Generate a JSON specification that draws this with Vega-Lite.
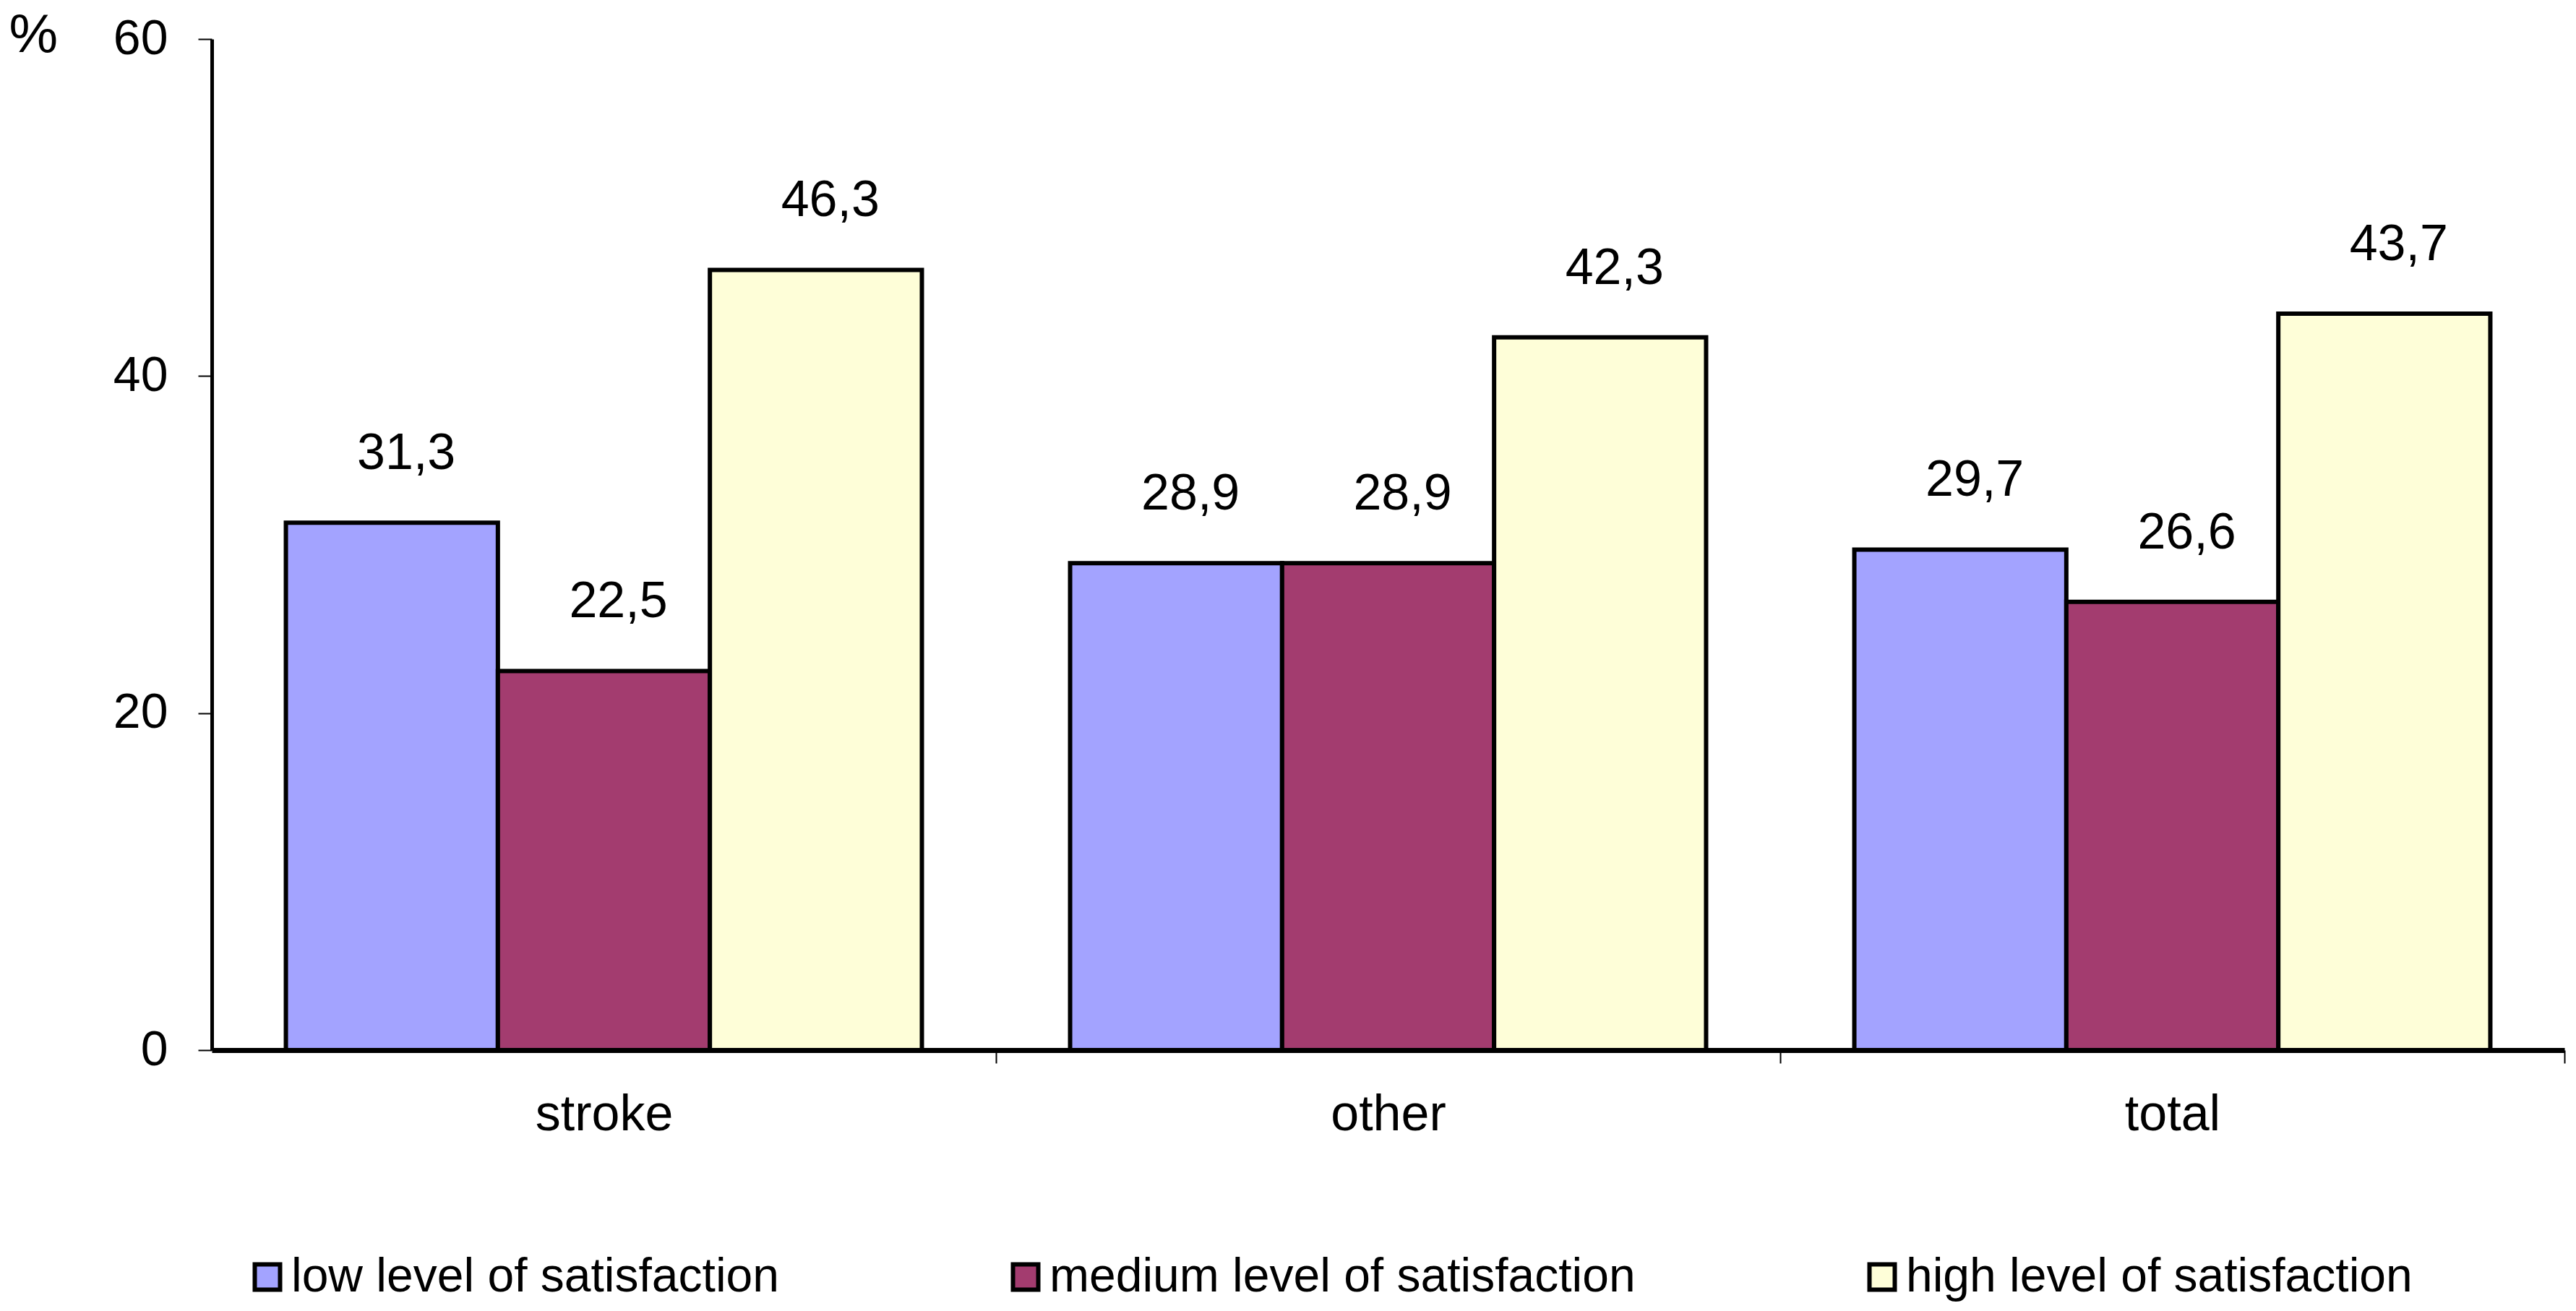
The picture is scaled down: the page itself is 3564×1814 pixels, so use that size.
{
  "$schema": "https://vega.github.io/schema/vega-lite/v6.json",
  "width": 3255,
  "height": 1399,
  "autosize": {"type": "none"},
  "padding": {"left": 293, "top": 54, "right": 16, "bottom": 361},
  "background": "white",
  "data": {
    "values": [
      {"group": "stroke", "level": "low level of satisfaction", "pct": 31.3},
      {"group": "stroke", "level": "medium level of satisfaction", "pct": 22.5},
      {"group": "stroke", "level": "high level of satisfaction", "pct": 46.3},
      {"group": "other", "level": "low level of satisfaction", "pct": 28.9},
      {"group": "other", "level": "medium level of satisfaction", "pct": 28.9},
      {"group": "other", "level": "high level of satisfaction", "pct": 42.3},
      {"group": "total", "level": "low level of satisfaction", "pct": 29.7},
      {"group": "total", "level": "medium level of satisfaction", "pct": 26.6},
      {"group": "total", "level": "high level of satisfaction", "pct": 43.7}
    ]
  },
  "encoding": {
    "x": {
      "field": "group",
      "type": "nominal",
      "sort": ["stroke", "other", "total"],
      "scale": {"paddingInner": 0.189, "paddingOuter": 0.0945},
      "axis": {
        "title": null,
        "labelAngle": 0,
        "labelFontSize": 70,
        "labelPadding": 37,
        "labelLimit": 1000,
        "bandPosition": 1,
        "tickExtra": false,
        "tickOffset": 102.5,
        "labelOffset": -102.5,
        "tickSize": 18,
        "tickWidth": 2,
        "tickColor": "black",
        "domainColor": "black",
        "domainWidth": 7
      }
    },
    "xOffset": {
      "field": "level",
      "type": "nominal",
      "sort": ["low level of satisfaction", "medium level of satisfaction", "high level of satisfaction"],
      "scale": {"paddingInner": 0, "paddingOuter": 0}
    },
    "y": {
      "field": "pct",
      "type": "quantitative",
      "scale": {"domain": [0, 60], "nice": false},
      "axis": {
        "title": "%",
        "titleAngle": 0,
        "titleAlign": "left",
        "titleBaseline": "middle",
        "titleX": -281,
        "titleY": -6,
        "titleFontSize": 76,
        "titleFontWeight": "normal",
        "values": [0, 20, 40, 60],
        "grid": false,
        "labelFontSize": 68,
        "labelPadding": 42,
        "tickSize": 19,
        "tickWidth": 2,
        "tickColor": "black",
        "domainColor": "black",
        "domainWidth": 5
      }
    }
  },
  "layer": [
    {
      "mark": {"type": "bar", "stroke": "black", "strokeWidth": 6},
      "encoding": {
        "color": {
          "field": "level",
          "type": "nominal",
          "sort": ["low level of satisfaction", "medium level of satisfaction", "high level of satisfaction"],
          "scale": {"range": ["#A3A3FF", "#A33C6F", "#FEFED8"]},
          "legend": {
            "title": null,
            "orient": "bottom",
            "direction": "horizontal",
            "symbolType": "square",
            "symbolSize": 1225,
            "symbolStrokeColor": "black",
            "symbolStrokeWidth": 6,
            "symbolOpacity": 1,
            "labelFontSize": 66,
            "labelOffset": 0,
            "labelLimit": 2000,
            "columnPadding": 308,
            "padding": 44,
            "offset": 113
          }
        }
      }
    },
    {
      "mark": {"type": "text", "baseline": "alphabetic", "align": "center", "dx": 20, "dy": -74, "fontSize": 70},
      "encoding": {
        "text": {"field": "pct", "type": "quantitative", "format": ".1f"}
      }
    }
  ],
  "config": {
    "font": "Liberation Sans",
    "locale": {
      "number": {"decimal": ",", "thousands": ".", "grouping": [3], "currency": ["", " €"]}
    },
    "view": {"stroke": null},
    "axis": {"labelColor": "black", "titleColor": "black", "labelFont": "Liberation Sans", "titleFont": "Liberation Sans"},
    "legend": {"labelColor": "black", "labelFont": "Liberation Sans"},
    "text": {"color": "black"}
  }
}
